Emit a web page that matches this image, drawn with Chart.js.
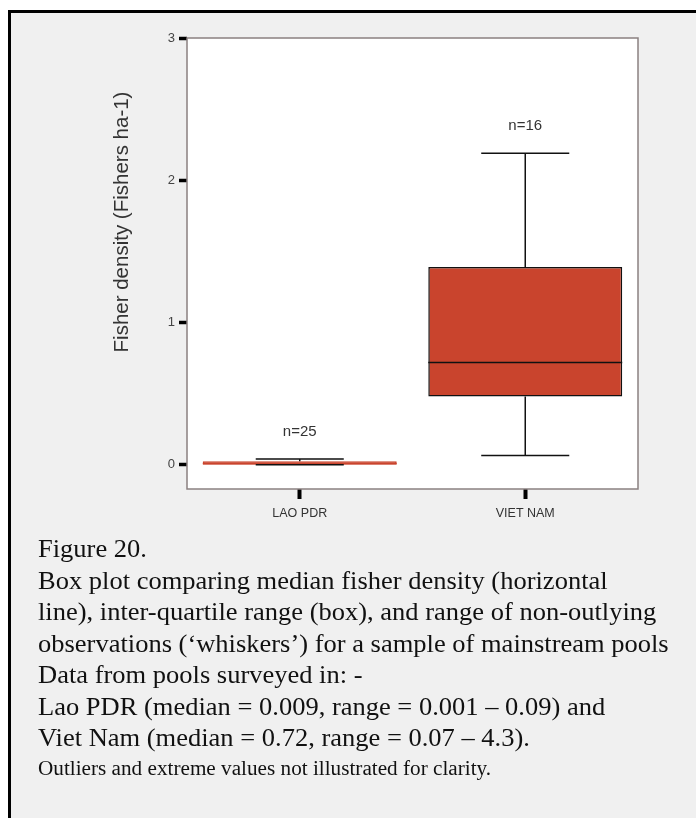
<!DOCTYPE html>
<html>
<head>
<meta charset="utf-8">
<script src="https://cdn.jsdelivr.net/npm/chart.js@4/dist/chart.umd.min.js"></script>
<style>
  html, body { margin: 0; padding: 0; background: #ffffff; }
  body { width: 696px; height: 818px; position: relative; overflow: hidden; }
  #frame {
    position: absolute; left: 8px; top: 10px; width: 720px; height: 840px;
    border: 3px solid #000; background: #f0f0f0; box-sizing: border-box;
  }
  #chartWrap { position: absolute; left: 0; top: 0; width: 696px; height: 540px; }
  .caption {
    position: absolute; left: 38px;
    font-family: "Liberation Serif", "Times New Roman", serif;
    color: #111; white-space: nowrap;
    transform: scaleX(1.06); transform-origin: left top;
  }
  #caption { top: 533px; font-size: 25px; line-height: 31.5px; }
  #note { top: 755px; font-size: 20px; line-height: 27px; }
</style>
</head>
<body>
<div id="frame"></div>
<div id="chartWrap"><canvas id="chart" width="696" height="540"></canvas></div>
<div id="caption" class="caption">
  Figure 20.<br>
  Box plot comparing median fisher density (horizontal<br>
  line), inter-quartile range (box), and range of non-outlying<br>
  observations (‘whiskers’) for a sample of mainstream pools<br>
  Data from pools surveyed in: -<br>
  Lao PDR (median = 0.009, range = 0.001 – 0.09) and<br>
  Viet Nam (median = 0.72, range = 0.07 – 4.3).
</div>
<div id="note" class="caption">Outliers and extreme values not illustrated for clarity.</div>
<script>
// Fisher density per pool (fishers per hectare), summarised as box plots
const categories   = ['LAO PDR', 'VIET NAM'];
const whiskerLow   = [0.001, 0.065];
const quartile1    = [0.001, 0.48];
const medians      = [0.009, 0.72];
const quartile3    = [0.025, 1.39];
const whiskerHigh  = [0.04, 2.19];
const sampleSizes  = [25, 16];
const yTickValues  = [0, 1, 2, 3];

// Styling
const BOX_FILL = '#c9442d';
const boxBorders = ['#c9442d', '#111111'];
const AXIS_FONT = '"Liberation Sans", Arial, Helvetica, sans-serif';

// Plot-area background and frame
const plotFrame = {
  id: 'plotFrame',
  beforeDraw(chart) {
    const { ctx, chartArea: a } = chart;
    ctx.save();
    ctx.fillStyle = '#ffffff';
    ctx.fillRect(a.left, a.top, a.right - a.left, a.bottom - a.top);
    ctx.restore();
  },
  afterDraw(chart) {
    const { ctx, chartArea: a } = chart;
    ctx.save();
    ctx.strokeStyle = '#8a8080';
    ctx.lineWidth = 1.5;
    ctx.strokeRect(a.left, a.top, a.right - a.left, a.bottom - a.top);
    ctx.restore();
  }
};

// Whiskers, caps, medians and sample-size labels
const boxExtras = {
  id: 'boxExtras',
  afterDatasetsDraw(chart) {
    const { ctx } = chart;
    const y = chart.scales.y;
    const meta = chart.getDatasetMeta(0);
    ctx.save();
    meta.data.forEach((bar, i) => {
      const cx = bar.x;
      const capHalf = bar.width * 0.227;
      const halfW = bar.width / 2;
      const pLow = y.getPixelForValue(whiskerLow[i]);
      const pQ1 = y.getPixelForValue(quartile1[i]);
      const pMed = y.getPixelForValue(medians[i]);
      const pQ3 = y.getPixelForValue(quartile3[i]);
      const pHigh = y.getPixelForValue(whiskerHigh[i]);

      // median
      ctx.strokeStyle = boxBorders[i];
      ctx.lineWidth = 1.5;
      ctx.beginPath();
      ctx.moveTo(cx - halfW, pMed);
      ctx.lineTo(cx + halfW, pMed);
      ctx.stroke();

      // whiskers
      ctx.strokeStyle = '#111111';
      ctx.lineWidth = 1.5;
      ctx.beginPath();
      ctx.moveTo(cx, pQ3); ctx.lineTo(cx, pHigh);
      ctx.moveTo(cx, pQ1); ctx.lineTo(cx, pLow);
      ctx.moveTo(cx - capHalf, pHigh); ctx.lineTo(cx + capHalf, pHigh);
      ctx.moveTo(cx - capHalf, pLow); ctx.lineTo(cx + capHalf, pLow);
      ctx.stroke();

      // n= labels
      ctx.fillStyle = '#333333';
      ctx.font = '15px ' + AXIS_FONT;
      ctx.textAlign = 'center';
      ctx.textBaseline = 'middle';
      ctx.fillText('n=' + sampleSizes[i], cx, pHigh - 27);
    });
    ctx.restore();
  }
};

// Rotated y-axis title
const yTitle = {
  id: 'yTitle',
  afterDraw(chart) {
    const { ctx } = chart;
    ctx.save();
    ctx.translate(122, 222);
    ctx.rotate(-Math.PI / 2);
    ctx.fillStyle = '#333333';
    ctx.font = '20.5px ' + AXIS_FONT;
    ctx.textAlign = 'center';
    ctx.textBaseline = 'middle';
    ctx.fillText('Fisher density (Fishers ha-1)', 0, 0);
    ctx.restore();
  }
};

new Chart(document.getElementById('chart'), {
  type: 'bar',
  data: {
    labels: categories,
    datasets: [{
      data: categories.map((_, i) => [quartile1[i], quartile3[i]]),
      backgroundColor: BOX_FILL,
      borderColor: boxBorders,
      borderWidth: 1.5,
      borderSkipped: false,
      categoryPercentage: 1,
      barPercentage: 0.86
    }]
  },
  options: {
    responsive: false,
    animation: false,
    layout: { padding: { left: 0, top: 38, right: 58, bottom: 0 } },
    plugins: { legend: { display: false }, tooltip: { enabled: false } },
    scales: {
      x: {
        type: 'category',
        offset: true,
        border: { display: false },
        grid: {
          display: true, drawOnChartArea: false, drawTicks: true,
          tickLength: 10, tickWidth: 4, tickColor: '#000', offset: false
        },
        ticks: {
          color: '#333333', padding: 7,
          font: { family: AXIS_FONT, size: 12.5 }
        },
        afterFit(scale) { scale.height = 540 - 489; }
      },
      y: {
        min: -0.17,
        max: 3,
        border: { display: false },
        grid: {
          display: true, drawOnChartArea: false, drawTicks: true,
          tickLength: 8, tickWidth: 3.5, tickColor: '#000'
        },
        afterBuildTicks(scale) { scale.ticks = yTickValues.map(v => ({ value: v })); },
        ticks: {
          color: '#444444', padding: 4,
          font: { family: AXIS_FONT, size: 13 },
          callback: v => String(v)
        },
        afterFit(scale) { scale.width = 187; }
      }
    }
  },
  plugins: [plotFrame, boxExtras, yTitle]
});
</script>
</body>
</html>
